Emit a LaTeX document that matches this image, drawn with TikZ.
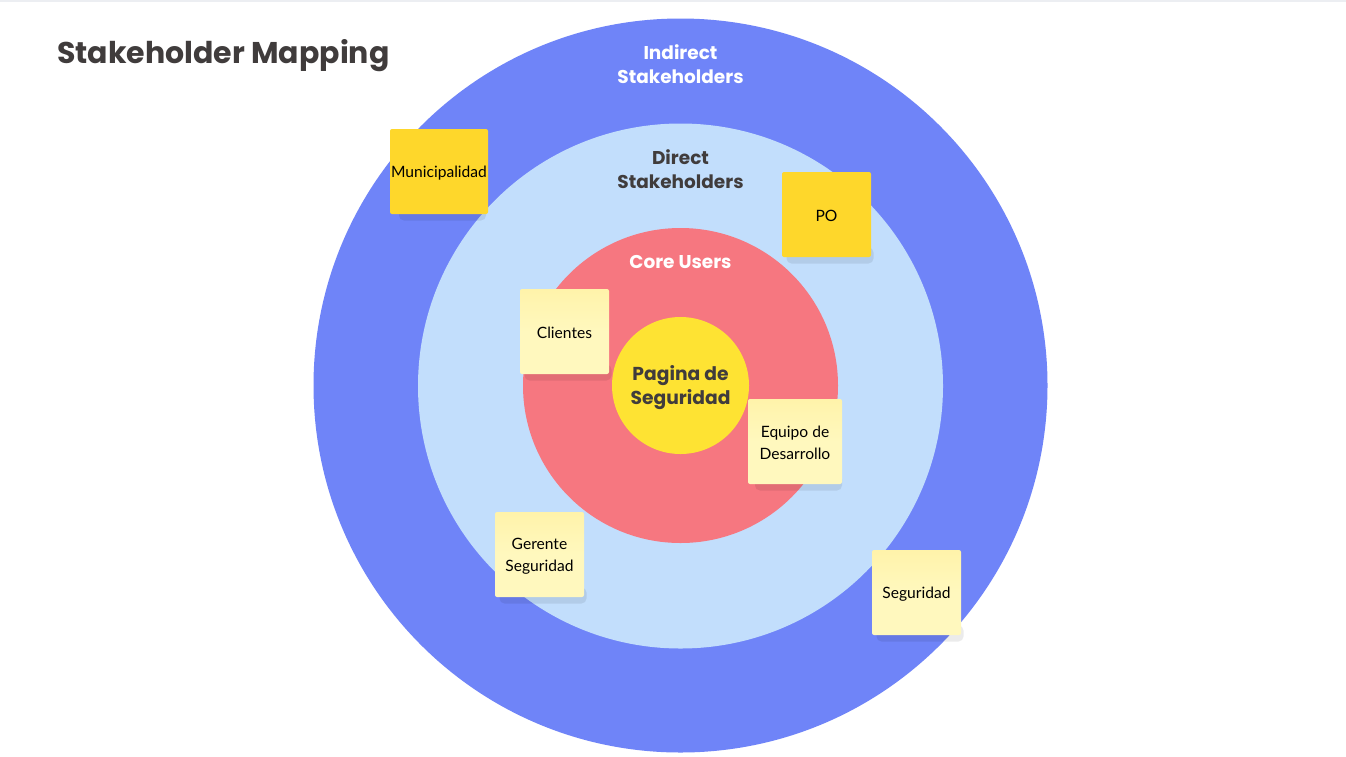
\documentclass[tikz,border=0pt]{standalone}
\usepackage{fontspec}
\setmainfont{Poppins}
\newfontfamily\notefont{Lato}
\definecolor{outerc}{RGB}{111,132,248}
\definecolor{midc}{RGB}{194,222,252}
\definecolor{corec}{RGB}{246,119,128}
\definecolor{centerc}{RGB}{254,227,51}
\definecolor{darkst}{RGB}{254,215,43}
\definecolor{lightst}{RGB}{255,248,190}
\definecolor{lightsttop}{RGB}{255,243,170}
\definecolor{txtc}{RGB}{64,60,60}
\definecolor{topbar}{RGB}{236,238,242}
\tikzset{
  ring/.style={circle, inner sep=0pt},
  ringlabel/.style={font=\bfseries\fontsize{18.5}{24}\selectfont, align=center},
  sticky/.style={minimum width=89pt, minimum height=85pt, rounded corners=2pt, inner sep=1pt,
     align=center, font=\notefont\fontsize{15.6}{22}\selectfont, text=black},
  darksticky/.style={sticky, fill=darkst},
  lightsticky/.style={sticky, top color=lightsttop, bottom color=lightst, middle color=lightst},
  shade/.style={fill=black, opacity=0.08, rounded corners=5pt},
  notetext/.style={align=center, font=\notefont\fontsize{15.6}{22}\selectfont, text=black, inner sep=0pt}
}
\begin{document}
\begin{tikzpicture}[x=1pt,y=-1pt]
\useasboundingbox (0,0) rectangle (1346,756);
\fill[white] (0,0) rectangle (1346,756);
\fill[topbar] (0,0) rectangle (1346,2);
\node[anchor=west, text=txtc, font=\bfseries\fontsize{30}{34}\selectfont, inner sep=0pt] (title) at (57,56) {Stakeholder Mapping};
% rings
\node[ring, fill=outerc, minimum size=734pt] (outer) at (680.5,385.5) {};
\node[ring, fill=midc, minimum size=525pt] (mid) at (680.5,386) {};
\node[ring, fill=corec, minimum size=315pt] (core) at (680.5,385.5) {};
\node[ring, fill=centerc, minimum size=137pt] (center) at (680.5,385.5) {};
\node[font=\bfseries\fontsize{18.7}{24}\selectfont, align=center, text=txtc] (centerlbl) at (680.5,388) {Pagina de\\Seguridad};
\node[ringlabel, text=white] (indirect) at (680.5,64) {Indirect\\Stakeholders};
\node[ringlabel, text=txtc] (direct) at (680.5,169) {Direct\\Stakeholders};
\node[ringlabel, text=white] (coreusers) at (680.5,261.5) {Core Users};
% shadows
\foreach \x/\y in {439/171.5, 826.5/214.5, 564.5/331.5, 795/441.5, 539.5/554.5, 916.5/592.5}{
  \fill[shade] (\x-40,\y+33) rectangle (\x+47,\y+49);
}
% stickies
\node[darksticky, minimum width=98pt] (muni) at (439,171.5) {};
\node[darksticky] (po) at (826.5,214.5) {};
\node[lightsticky] (clientes) at (564.5,331.5) {};
\node[lightsticky, minimum width=94pt] (equipo) at (795,441.5) {};
\node[lightsticky] (gerente) at (539.5,554.5) {};
\node[lightsticky] (seguridad) at (916.5,592.5) {};
\node[notetext] (muniT) at ([yshift=-2pt]muni.center) {Municipalidad};
\node[notetext] (poT) at ([yshift=-1.5pt]po.center) {PO};
\node[notetext] (clientesT) at ([yshift=-1.5pt]clientes.center) {Clientes};
\node[notetext] (equipoT) at ([yshift=-1.5pt]equipo.center) {Equipo de\\Desarrollo};
\node[notetext] (gerenteT) at ([yshift=-1.5pt]gerente.center) {Gerente\\Seguridad};
\node[notetext] (seguridadT) at ([yshift=-1.5pt]seguridad.center) {Seguridad};
\end{tikzpicture}
\end{document}
